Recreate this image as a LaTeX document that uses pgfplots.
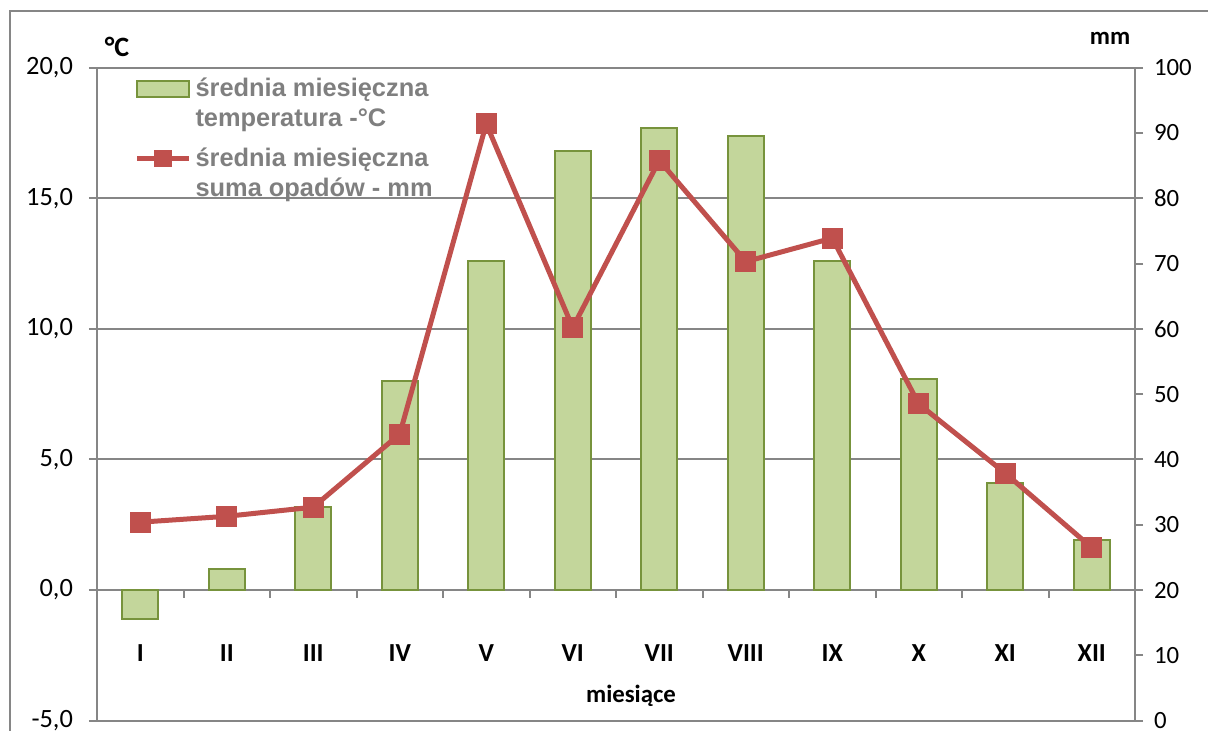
\documentclass[border=0pt]{standalone}
\usepackage{pgfplots}
\pgfplotsset{compat=1.18}
\usepackage{fontspec}
\setmainfont{Carlito}
\newfontfamily\legfont{Liberation Sans}
\definecolor{axgray}{HTML}{868686}
\definecolor{txtgray}{HTML}{7F7F7F}
\definecolor{barfill}{HTML}{C3D69B}
\definecolor{baredge}{HTML}{77933C}
\definecolor{rainred}{HTML}{C0504D}
\begin{document}
\begin{tikzpicture}
\useasboundingbox (0,0) rectangle (604pt,365.5pt);
\draw[axgray, line width=1pt] (5pt,0) -- (5pt,360pt) -- (604pt,360pt);
\pgfplotsset{
  common/.style={
    at={(48.5pt,5.15pt)}, anchor=south west,
    scale only axis, width=519pt, height=326.5pt,
    xmin=0.5, xmax=12.5,
    axis line style={axgray, line width=1pt},
    every tick/.style={axgray, line width=1pt},
    tick align=outside, major tick length=4pt,
    ticklabel style={font=\fontsize{12.4}{14}\selectfont, text=black},
    /pgf/number format/assume math mode=true,
  }
}
% temperature (left axis)
\begin{axis}[
  common,
  ymin=-5, ymax=20, ytick={-5,0,...,20},
  axis y line*=left,
  axis x line*=bottom,
  ymajorgrids, grid style={axgray, line width=1pt},
  yticklabel shift=4.5pt,
  yticklabel style={font=\fontsize{13.2}{14}\selectfont,
    /pgf/number format/.cd, fixed, fixed zerofill, precision=1, use comma},
  xtick={1,...,12},
  xticklabels={I,II,III,IV,V,VI,VII,VIII,IX,X,XI,XII},
  x tick style={draw=none},
  xticklabel style={font=\fontsize{13}{15}\selectfont\bfseries, anchor=base, yshift=33.5pt},
  ybar, bar width=18pt,
]
\addplot[fill=barfill, draw=baredge, line width=1pt] coordinates {
  (1,-1.1) (2,0.8) (3,3.2) (4,8.0) (5,12.6) (6,16.8)
  (7,17.7) (8,17.4) (9,12.6) (10,8.1) (11,4.1) (12,1.9)};
\end{axis}
% category separator ticks on the zero line
\begin{axis}[
  common,
  ymin=-5, ymax=20,
  axis lines=none, clip=false,
]
\pgfplotsinvokeforeach{1.5,2.5,3.5,4.5,5.5,6.5,7.5,8.5,9.5,10.5,11.5}{
  \draw[draw=axgray, line width=1pt] (axis cs:#1,0) -- (axis cs:#1,-0.31);
}
\end{axis}
% precipitation (right axis)
\begin{axis}[
  common,
  ymin=0, ymax=100, ytick={0,10,...,100},
  axis y line*=right,
  axis x line=none,
  yticklabel shift=2pt,
  legend cell align=left,
  legend style={at={(0.03,0.997)}, anchor=north west, draw=none, fill=none,
    font=\legfont\fontsize{12.7}{15}\selectfont\bfseries,
    nodes={align=left, text=txtgray, inner xsep=2pt}, row sep=5pt},
]
\addlegendimage{legend image code/.code={
  \draw[fill=barfill, draw=baredge, line width=1pt] (0pt,3.5pt) rectangle (26pt,11.5pt);}}
\addlegendentry{średnia miesięczna\\temperatura -°C}
\addlegendimage{legend image code/.code={
  \draw[rainred, line width=2.5pt] (0pt,7.5pt) -- (26pt,7.5pt);
  \fill[rainred] (13pt,7.5pt) ++(-4.2pt,-4.2pt) rectangle ++(8.4pt,8.4pt);}}
\addlegendentry{średnia miesięczna\\suma opadów - mm}
\addplot[rainred, line width=2.5pt, mark=square*, mark size=5pt,
  mark options={line width=0pt, fill=rainred}, forget plot]
  coordinates {
  (1,30.4) (2,31.3) (3,32.7) (4,43.9) (5,91.4) (6,60.2)
  (7,85.8) (8,70.3) (9,73.9) (10,48.5) (11,37.9) (12,26.5)};
\end{axis}
\node[font=\fontsize{14}{15}\selectfont\bfseries] at (58.5pt,342pt) {°C};
\node[font=\fontsize{12.4}{15}\selectfont\bfseries] at (555pt,346.5pt) {mm};
\node[font=\fontsize{12.4}{15}\selectfont\bfseries, anchor=base] at (315.5pt,14pt) {miesiące};
\end{tikzpicture}
\end{document}
